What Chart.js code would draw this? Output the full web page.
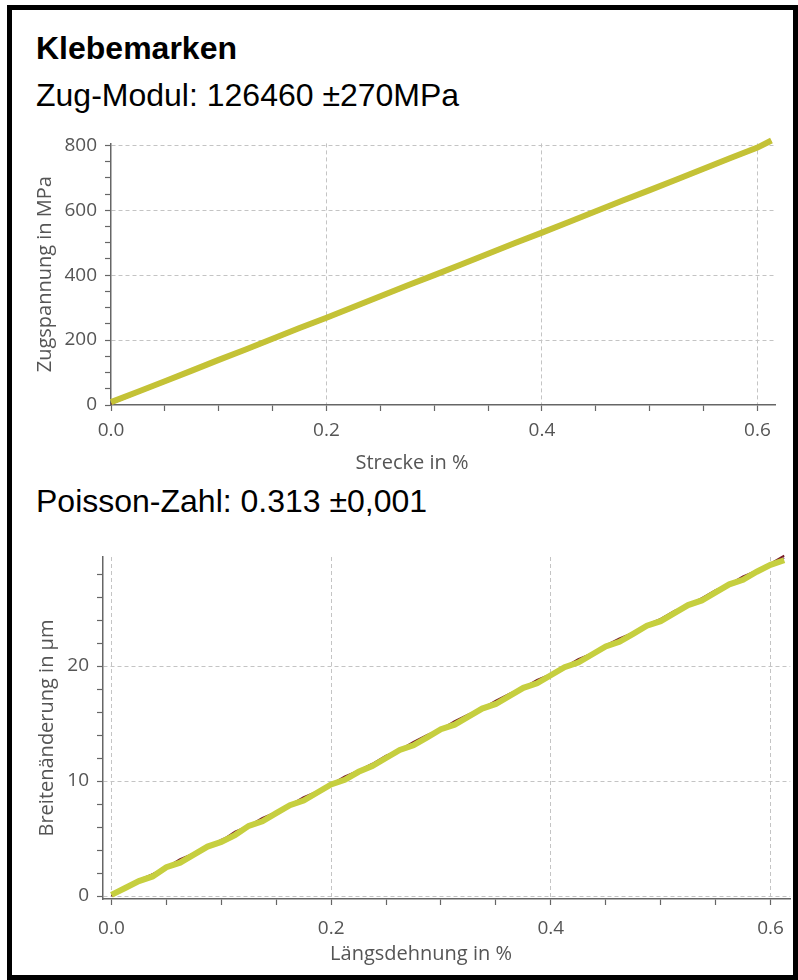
<!DOCTYPE html>
<html>
<head>
<meta charset="utf-8">
<script src="https://cdn.jsdelivr.net/npm/chart.js@4"></script>
<style>
    body { margin: 0; background: #fff; overflow: hidden; }
    #frame { position: absolute; left: 7px; top: 5px; width: 791px; height: 975px; border: 5px solid #000; box-sizing: border-box; }
    .head { position: absolute; left: 36px; font-family: "Liberation Sans", Arial, sans-serif; font-size: 32px; line-height: 32px; color: #000; white-space: nowrap; }
    .chart { position: absolute; left: 20px; }
</style>
</head>
<body>
<div id="frame"></div>
<div class="head" style="top:32px;font-weight:bold">Klebemarken</div>
<div class="head" style="top:79px">Zug-Modul: 126460 ±270MPa</div>
<div class="head" style="top:485px">Poisson-Zahl: 0.313 ±0,001</div>
<div class="chart" style="top:124px;width:775px;height:345px"><canvas id="chartTop"></canvas></div>
<div class="chart" style="top:530px;width:776px;height:445px"><canvas id="chartBottom"></canvas></div>
<script>
// Zug-Modul: Strecke in % gegen Zugspannung in MPa
const strainTop = [0, 0.025, 0.05, 0.075, 0.1, 0.125, 0.15, 0.175, 0.2, 0.225, 0.25, 0.275, 0.3,
    0.325, 0.35, 0.375, 0.4, 0.425, 0.45, 0.475, 0.5, 0.525, 0.55, 0.575, 0.6, 0.613];
const stressYellow = [9, 41, 73, 106, 139, 171, 204, 237, 269, 302, 335, 368, 400,
    433, 466, 499, 531, 564, 597, 630, 662, 695, 728, 761, 793, 815];
const stressRed = [4, 37, 69, 102, 135, 167, 200, 233, 265, 298, 331, 364, 396,
    429, 462, 495, 527, 560, 593, 626, 658, 691, 724, 757, 789, 811];

// Poisson-Zahl: Längsdehnung in % gegen Breitenänderung in µm
const strainBottom = [0, 0.0125, 0.025, 0.0375, 0.05, 0.0625, 0.075, 0.0875, 0.1, 0.1125,
    0.125, 0.1375, 0.15, 0.1625, 0.175, 0.1875, 0.2, 0.2125, 0.225, 0.2375,
    0.25, 0.2625, 0.275, 0.2875, 0.3, 0.3125, 0.325, 0.3375, 0.35, 0.3625,
    0.375, 0.3875, 0.4, 0.4125, 0.425, 0.4375, 0.45, 0.4625, 0.475, 0.4875,
    0.5, 0.5125, 0.525, 0.5375, 0.55, 0.5625, 0.575, 0.5875, 0.6, 0.6125];
const widthYellow = [0.1, 0.7, 1.3, 1.7, 2.5, 2.9, 3.6, 4.3, 4.7, 5.3,
    6.1, 6.5, 7.2, 7.9, 8.3, 9.0, 9.7, 10.1, 10.8, 11.3,
    12.0, 12.7, 13.1, 13.8, 14.5, 14.9, 15.6, 16.3, 16.7, 17.4,
    18.1, 18.5, 19.2, 19.9, 20.3, 21.0, 21.7, 22.1, 22.8, 23.5,
    23.9, 24.6, 25.3, 25.7, 26.4, 27.1, 27.5, 28.2, 28.8, 29.2];
const widthRed = [0, 0.8, 1.4, 1.9, 2.5, 3.2, 3.7, 4.4, 4.8, 5.6,
    6.1, 6.8, 7.3, 7.9, 8.6, 9.1, 9.7, 10.4, 10.9, 11.5,
    12.2, 12.7, 13.4, 14.0, 14.5, 15.2, 15.8, 16.3, 17.0, 17.6,
    18.1, 18.8, 19.3, 19.9, 20.6, 21.1, 21.8, 22.4, 22.9, 23.6,
    24.1, 24.8, 25.3, 25.9, 26.6, 27.1, 27.8, 28.3, 28.9, 29.6];
const widthPurple = [0, 0.6, 1.3, 1.9, 2.4, 3.1, 3.6, 4.2, 4.9, 5.4,
    6.0, 6.7, 7.2, 7.8, 8.5, 9.0, 9.6, 10.3, 10.8, 11.4,
    12.1, 12.6, 13.2, 13.9, 14.4, 15.0, 15.7, 16.2, 16.8, 17.5,
    18.0, 18.6, 19.3, 19.8, 20.4, 21.1, 21.6, 22.2, 22.9, 23.4,
    24.0, 24.7, 25.2, 25.8, 26.5, 27.0, 27.6, 28.3, 28.8, 29.4];

const textColor = '#555';
const axisColor = '#666';
const gridColor = '#c4c4c4';

function points(xs, ys) {
    return xs.map((x, i) => ({ x: x, y: ys[i] }));
}

function isMajor(v, step) {
    return Math.abs(v / step - Math.round(v / step)) < 1e-6;
}

// x-Achsentitel mittig unter dem ganzen Diagramm, nicht nur unter der Plotfläche
const xTitlePlugin = {
    id: 'xTitle',
    afterDraw(chart, args, opts) {
        const ctx = chart.ctx;
        ctx.save();
        ctx.font = '20px "Open Sans"';
        ctx.fillStyle = textColor;
        ctx.textAlign = 'center';
        ctx.textBaseline = 'middle';
        ctx.fillText(opts.text, opts.x, opts.y);
        ctx.restore();
    }
};

function lineSet(data, color, width) {
    return { data: data, borderColor: color, borderWidth: width, pointRadius: 0, tension: 0, clip: false };
}

function axis(min, max, step, major, labelFmt, zeroGrid, pad, extra) {
    return Object.assign({
        type: 'linear',
        min: min,
        max: max,
        border: { color: axisColor, width: 1.5, dash: [4, 3] },
        grid: {
            color: ctx => {
                if (!ctx.tick) return 'transparent';
                const v = ctx.tick.value;
                if (!isMajor(v, major)) return 'transparent';
                if (Math.abs(v) < 1e-9 && !zeroGrid) return 'transparent';
                return gridColor;
            },
            lineWidth: 1,
            tickLength: 6,
            tickColor: axisColor,
            tickWidth: 1.2
        },
        ticks: {
            stepSize: step,
            includeBounds: false,
            autoSkip: false,
            maxRotation: 0,
            padding: pad,
            color: textColor,
            font: { family: 'Open Sans', size: 19 },
            callback: v => isMajor(v, major) ? labelFmt(v) : ''
        }
    }, extra);
}

new Chart(document.getElementById('chartTop'), {
    type: 'line',
    data: {
        datasets: [
            lineSet(points(strainTop, stressYellow), '#c4c236', 6),
            lineSet(points(strainTop, stressRed), '#7a1e1e', 2)
        ]
    },
    options: {
        responsive: true,
        maintainAspectRatio: false,
        animation: false,
        layout: { padding: { left: 0, right: 20, top: 13, bottom: 0 } },
        plugins: {
            legend: { display: false },
            tooltip: { enabled: false },
            xTitle: { text: 'Strecke in %', x: 392, y: 339 }
        },
        scales: {
            x: axis(0, 0.6163, 0.05, 0.2, v => v.toFixed(1), false, 8, {
                afterFit: s => { s.height = 64; }
            }),
            y: axis(0, 806, 50, 200, v => String(v), false, 8, {
                afterFit: s => { s.width = 91; },
                title: { display: true, text: 'Zugspannung in MPa', color: textColor,
                    font: { family: 'Open Sans', size: 20 }, padding: { top: 13, bottom: 0 } }
            })
        }
    },
    plugins: [xTitlePlugin]
});

new Chart(document.getElementById('chartBottom'), {
    type: 'line',
    data: {
        datasets: [
            lineSet(points(strainBottom, widthYellow), '#c6cf3f', 6),
            lineSet(points(strainBottom, widthRed), '#7a1e2a', 2),
            lineSet(points(strainBottom, widthPurple), '#8a4f8f', 2)
        ]
    },
    options: {
        responsive: true,
        maintainAspectRatio: false,
        animation: false,
        layout: { padding: { left: 0, right: 5, top: 27, bottom: 0 } },
        plugins: {
            legend: { display: false },
            tooltip: { enabled: false },
            xTitle: { text: 'Längsdehnung in %', x: 401, y: 424 }
        },
        scales: {
            x: axis(-0.0077, 0.618, 0.05, 0.2, v => v.toFixed(1), true, 12, {
                afterFit: s => { s.height = 76; }
            }),
            y: axis(-0.26, 29.48, 2, 10, v => String(v), true, 8, {
                afterFit: s => { s.width = 83; },
                title: { display: true, text: 'Breitenänderung in µm', color: textColor,
                    font: { family: 'Open Sans', size: 20 }, padding: { top: 15, bottom: 0 } }
            })
        }
    },
    plugins: [xTitlePlugin]
});
</script>
</body>
</html>
